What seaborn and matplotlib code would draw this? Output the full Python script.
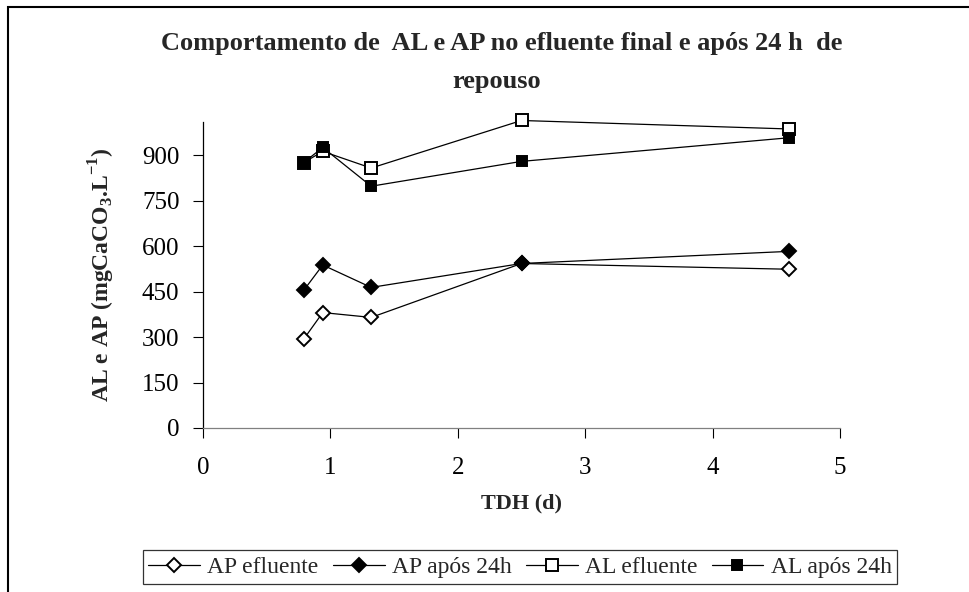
import matplotlib
matplotlib.use("Agg")
import matplotlib.pyplot as plt
import seaborn as sns
import pandas as pd
from matplotlib.patches import Rectangle

sns.set_style("ticks")
plt.rcParams["font.family"] = ["Liberation Serif", "DejaVu Serif"]
plt.rcParams["mathtext.fontset"] = "custom"
plt.rcParams["mathtext.rm"] = "Liberation Serif:bold"

# -------------------------
# DATA
# -------------------------

tdh = [0.79, 0.94, 1.32, 2.50, 4.60]

ap_efluente = [293, 381, 365, 543, 524]
ap_24h = [454, 538, 464, 543, 583]
al_efluente = [876, 913, 858, 1015, 987]
al_24h = [876, 926, 798, 880, 958]

series_names = ["AP efluente", "AP após 24h", "AL efluente", "AL após 24h"]
series_values = [ap_efluente, ap_24h, al_efluente, al_24h]

y_ticks = [0, 150, 300, 450, 600, 750, 900]
x_ticks = [0, 1, 2, 3, 4, 5]

# marker style per series: (marker, face colour, size)
styles = {
    "AP efluente": ("D", "white", 7.5),
    "AP após 24h": ("D", "black", 7.5),
    "AL efluente": ("s", "white", 8),
    "AL após 24h": ("s", "black", 6.5),
}

# -------------------------
# PLOT
# -------------------------

fig = plt.figure(figsize=(9.69, 5.92), dpi=100)
ax = fig.add_axes([203 / 969, 1 - 428 / 592, (840 - 203) / 969, (428 - 122) / 592])

for name, vals in zip(series_names, series_values):
    d = pd.DataFrame({"TDH": tdh, "valor": vals})
    marker, face, ms = styles[name]
    sns.lineplot(data=d, x="TDH", y="valor", ax=ax, color="black", linewidth=0.9,
                 marker=marker, markersize=ms, markerfacecolor=face,
                 markeredgecolor="black", markeredgewidth=1.4, label=name,
                 sort=False, clip_on=False)

ax.set_xlim(0, 5)
ax.set_ylim(0, 1010)
ax.set_xticks(x_ticks)
ax.set_yticks(y_ticks)
ax.tick_params(axis="both", labelsize=18, length=7, width=0.8, direction="out",
               colors="black", pad=10)
ax.tick_params(axis="x", pad=14)
for s in ["top", "right"]:
    ax.spines[s].set_visible(False)
for s in ["left", "bottom"]:
    ax.spines[s].set_linewidth(0.9)
ax.spines["left"].set_color("black")
ax.spines["bottom"].set_color("#808080")

ax.set_xlabel("TDH (d)", fontsize=16, fontweight="bold", labelpad=10)
ax.set_ylabel(r"AL e AP (mgCaCO$_\mathrm{3}$.L$^\mathrm{-1}$)", fontsize=17,
              fontweight="bold", labelpad=18)

fig.text(0.518, 0.927, "Comportamento de  AL e AP no efluente final e após 24 h  de",
         ha="center", va="center", fontsize=19, fontweight="bold")
fig.text(0.513, 0.862, "repouso", ha="center", va="center", fontsize=19,
         fontweight="bold")

ax.get_legend().remove()
handles, labels = ax.get_legend_handles_labels()
leg = fig.legend(handles, labels, loc="center", bbox_to_anchor=(520 / 969, 1 - 567 / 592),
                 ncol=4, fontsize=17, frameon=True, fancybox=False, shadow=False,
                 edgecolor="black", handlelength=2.2, handletextpad=0.3,
                 columnspacing=0.6, borderpad=0.25, borderaxespad=0)
leg.get_frame().set_linewidth(0.9)

# outer chart-area border
fig.patches.append(Rectangle((8 / 969, -0.1), 1.2, 1 - 7 / 592 + 0.1,
                             transform=fig.transFigure, fill=False,
                             edgecolor="black", linewidth=1.5))

fig.savefig("out.png", dpi=100)
